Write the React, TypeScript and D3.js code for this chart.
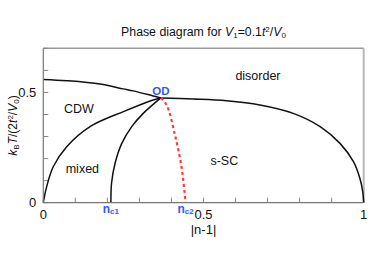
import React from 'react';
import * as d3 from 'd3';

// phase boundaries: x = |n-1|, y = kBT/(2t^2/V0)
const cdwTopX = [0, 0.073, 0.177, 0.25, 0.281, 0.343, 0.367];
const cdwTopY = [0.559, 0.553, 0.538, 0.516, 0.507, 0.484, 0.475];

const sscX = [0.367, 0.468, 0.572, 0.676, 0.78, 0.864, 0.926, 0.968, 0.988, 0.997, 1];
const sscY = [0.475, 0.47, 0.462, 0.443, 0.405, 0.345, 0.269, 0.186, 0.111, 0.05, 0];

const mixedX = [0, 0.0106, 0.031, 0.073, 0.146, 0.25, 0.343, 0.367];
const mixedY = [0, 0.073, 0.163, 0.254, 0.345, 0.413, 0.466, 0.475];

const nc1X = [0.211, 0.213, 0.224, 0.245, 0.276, 0.312, 0.367];
const nc1Y = [0, 0.088, 0.179, 0.269, 0.345, 0.405, 0.475];

const nc2X = [0.367, 0.385, 0.411, 0.432, 0.444];
const nc2Y = [0.475, 0.443, 0.307, 0.156, 0];

const xTickLabels = [0, 0.5, 1];
const yTickLabels = [0, 0.5];
const minorTicks = d3.range(0, 1.001, 0.1);
const yMinorTicks = d3.range(0, 0.701, 0.1);

const regions = [
  { name: 'disorder', x: 0.67, y: 0.556 },
  { name: 'CDW', x: 0.111, y: 0.407 },
  { name: 'mixed', x: 0.122, y: 0.135 },
  { name: 's-SC', x: 0.565, y: 0.171 },
];

const W = 374;
const H = 264;
const margin = { left: 43.3, right: 10.3, top: 48.3, bottom: 61.3 };
const font = 'Liberation Sans, Arial, Helvetica, sans-serif';
const blue = '#2f5bf0';

const App = () => {
  const x = d3.scaleLinear().domain([0, 1]).range([margin.left, W - margin.right]);
  const y = d3.scaleLinear().domain([0, 0.7]).range([H - margin.bottom, margin.top]);

  const line = d3
    .line<[number, number]>()
    .x(d => x(d[0]))
    .y(d => y(d[1]))
    .curve(d3.curveCatmullRom.alpha(0.5));

  const pts = (xs: number[], ys: number[]) => xs.map((v, i) => [v, ys[i]] as [number, number]);

  const x0 = x(0), x1 = x(1), y0 = y(0), yTop = y(0.7);

  return (
    <svg width={W} height={H} style={{ position: 'absolute', left: 0, top: 0, background: '#fff' }} fontFamily={font}>
      {/* title */}
      <text x={(x0 + x1) / 2} y={36} textAnchor="middle" fontSize={12.3} fill="#111">
        Phase diagram for <tspan fontStyle="italic">V</tspan>
        <tspan fontSize={8} dy={2}>1</tspan>
        <tspan dy={-2}>=0.1</tspan>
        <tspan fontStyle="italic">t</tspan>
        <tspan fontSize={8} dy={-4}>2</tspan>
        <tspan dy={4}>/</tspan>
        <tspan fontStyle="italic">V</tspan>
        <tspan fontSize={8} dy={2}>0</tspan>
      </text>

      {/* frame */}
      <line x1={x0} x2={x1} y1={yTop} y2={yTop} stroke="#9a9a9a" strokeWidth={1.5} />
      <line x1={x1} x2={x1} y1={yTop} y2={y0} stroke="#b8b8b8" strokeWidth={2} />

      {/* ticks */}
      {minorTicks.map(t => (
        <line key={'xt' + t} x1={x(t)} x2={x(t)} y1={y0} y2={y0 - 5} stroke="#888" strokeWidth={1} />
      ))}
      {yMinorTicks.map(t => (
        <line key={'yt' + t} x1={x0} x2={x0 + 5} y1={y(t)} y2={y(t)} stroke="#888" strokeWidth={1} />
      ))}

      {/* phase boundaries */}
      <g fill="none" stroke="#111" strokeWidth={1.5}>
        <path d={line(pts(cdwTopX, cdwTopY)) || ''} />
        <path d={line(pts(sscX, sscY)) || ''} />
        <path d={line(pts(mixedX, mixedY)) || ''} />
        <path d={line(pts(nc1X, nc1Y)) || ''} />
      </g>
      <path d={line(pts(nc2X, nc2Y)) || ''} fill="none" stroke="#ff3b2f" strokeWidth={2.2} strokeDasharray="3,3" />

      {/* axes */}
      <line x1={x0} x2={x0} y1={yTop} y2={y0} stroke="#777" strokeWidth={1.2} />
      <line x1={x0} x2={x1} y1={y0} y2={y0} stroke="#777" strokeWidth={1.2} />

      {xTickLabels.map(t => (
        <text key={'xl' + t} x={x(t)} y={219} textAnchor="middle" fontSize={13} fill="#111">
          {t}
        </text>
      ))}
      {yTickLabels.map(t => (
        <text key={'yl' + t} x={x0 - 7} y={y(t) + 4.5} textAnchor="end" fontSize={13} fill="#111">
          {t}
        </text>
      ))}

      <text x={(x0 + x1) / 2} y={234} textAnchor="middle" fontSize={13} fill="#111">
        |n-1|
      </text>

      <text transform={`translate(17,${(yTop + y0) / 2}) rotate(-90)`} textAnchor="middle" fontSize={12} fill="#111">
        <tspan fontStyle="italic">k</tspan>
        <tspan fontSize={8} dy={2}>B</tspan>
        <tspan fontStyle="italic" dy={-2}>T</tspan>
        <tspan>/(2</tspan>
        <tspan fontStyle="italic">t</tspan>
        <tspan fontSize={8} dy={-4}>2</tspan>
        <tspan dy={4}>/</tspan>
        <tspan fontStyle="italic">V</tspan>
        <tspan fontSize={8} dy={2}>0</tspan>
        <tspan dy={-2}>)</tspan>
      </text>

      {/* special points */}
      <text x={x(0.367)} y={y(0.475) - 3} textAnchor="middle" fontSize={11.5} fontWeight="bold" fill={blue}>
        OD
      </text>
      <text x={x(0.211)} y={213} textAnchor="middle" fontSize={12} fontWeight="bold" fill={blue}>
        n<tspan fontSize={8} dy={1}>c1</tspan>
      </text>
      <text x={x(0.444)} y={213} textAnchor="middle" fontSize={12} fontWeight="bold" fill={blue}>
        n<tspan fontSize={8} dy={1}>c2</tspan>
      </text>

      {regions.map(r => (
        <text key={r.name} x={x(r.x)} y={y(r.y)} textAnchor="middle" fontSize={12.5} fill="#111">
          {r.name}
        </text>
      ))}
    </svg>
  );
};

export default App;
